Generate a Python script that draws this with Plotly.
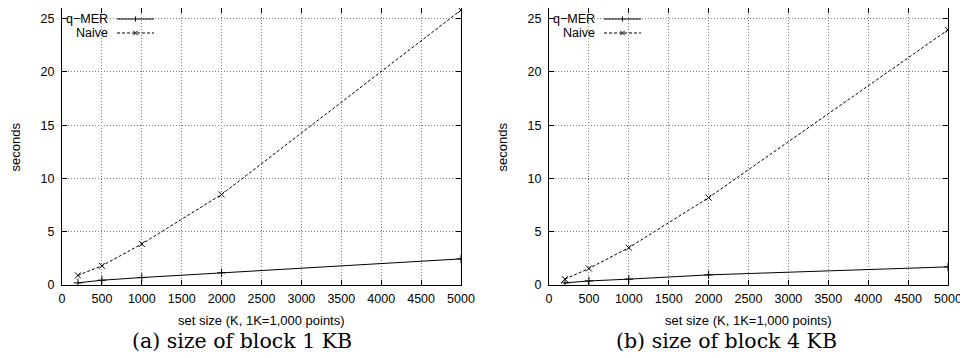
import plotly.graph_objects as go

# ---------------- data ----------------
set_size = [200, 500, 1000, 2000, 5000]
qmer_1kb = [0.2, 0.45, 0.7, 1.15, 2.45]
naive_1kb = [0.9, 1.8, 3.85, 8.5, 25.8]
qmer_4kb = [0.2, 0.38, 0.55, 0.95, 1.7]
naive_4kb = [0.55, 1.55, 3.5, 8.2, 23.95]
x_ticks = list(range(0, 5001, 500))
y_ticks = [0, 5, 10, 15, 20, 25]
series_names = ["q\u2212MER", "Naive"]
captions = ["(a) size of block 1 KB", "(b) size of block 4 KB"]
x_title = "set size (K, 1K=1,000 points)"
y_title = "seconds"

W, H = 968, 358
OFF = 8  # page body margin offset of the plot div
SANS = "Liberation Sans"
SERIF = "DejaVu Serif"

def px(x):
    return (x - OFF) / W

def py(y):
    return 1 - (y - OFF) / H

# plot-area pixel boxes (screen coordinates)
panels = [(62, 461), (549, 948)]
top, bottom = 8, 285

fig = go.Figure()

data = [(qmer_1kb, naive_1kb), (qmer_4kb, naive_4kb)]
for i, (q, n) in enumerate(data):
    xa = "x" if i == 0 else "x2"
    ya = "y" if i == 0 else "y2"
    fig.add_trace(go.Scatter(
        x=set_size, y=q, mode="lines+markers", name=series_names[0],
        xaxis=xa, yaxis=ya, showlegend=False,
        line=dict(color="black", width=1),
        marker=dict(symbol="cross-thin", size=6, line=dict(color="black", width=1))))
    fig.add_trace(go.Scatter(
        x=set_size, y=n, mode="lines+markers", name=series_names[1],
        xaxis=xa, yaxis=ya, showlegend=False,
        line=dict(color="black", width=1, dash="3px,2px"),
        marker=dict(symbol="x-thin", size=6, line=dict(color="black", width=1))))

axis_common = dict(
    showline=True, linecolor="black", linewidth=1.2, mirror="ticks",
    ticks="inside", ticklen=5, tickcolor="black", tickwidth=1,
    showgrid=True, gridcolor="#7a7a7a", griddash="1px,2px", gridwidth=1,
    zeroline=False, automargin=False,
    tickfont=dict(family=SANS, size=12.5, color="black"),
)

layout = dict(
    width=W, height=H, margin=dict(l=0, r=0, t=0, b=0, autoexpand=False),
    paper_bgcolor="white", plot_bgcolor="white", showlegend=False,
)
for i, (l, r) in enumerate(panels):
    sx = "" if i == 0 else "2"
    layout["xaxis" + sx] = dict(
        axis_common, domain=[px(l), px(r)], range=[0, 5000],
        tickvals=x_ticks, anchor="y" + sx, ticklabelstandoff=2)
    layout["yaxis" + sx] = dict(
        axis_common, domain=[py(bottom), py(top)], range=[0, 26],
        tickvals=y_ticks, anchor="x" + sx, ticklabelstandoff=4)
fig.update_layout(**layout)

shapes = []
annotations = []
for i, (l, r) in enumerate(panels):
    # legend background box (hides gridlines)
    shapes.append(dict(type="rect", xref="paper", yref="paper",
                       x0=px(l + 1), x1=px(l + 98), y0=py(38), y1=py(top + 1),
                       fillcolor="white", line=dict(width=0), layer="between"))
    # legend entries
    for j, yy in enumerate([19, 33]):
        annotations.append(dict(
            xref="paper", yref="paper", x=px(l + 48), y=py(yy),
            xanchor="right", yanchor="middle", showarrow=False,
            text=series_names[j], font=dict(family=SANS, size=12.5, color="black")))
        shapes.append(dict(type="line", xref="paper", yref="paper",
                           x0=px(l + 55), x1=px(l + 92), y0=py(yy), y1=py(yy),
                           line=dict(color="black", width=1,
                                     dash="solid" if j == 0 else "3px,2px")))
        cx = l + 73.5
        if j == 0:
            shapes.append(dict(type="line", xref="paper", yref="paper",
                               x0=px(cx), x1=px(cx), y0=py(yy - 2.5), y1=py(yy + 2.5),
                               line=dict(color="black", width=1)))
        else:
            for s in (1, -1):
                shapes.append(dict(type="line", xref="paper", yref="paper",
                                   x0=px(cx - 2.2), x1=px(cx + 2.2),
                                   y0=py(yy - 2.2 * s), y1=py(yy + 2.2 * s),
                                   line=dict(color="black", width=1)))
    # axis titles
    annotations.append(dict(
        xref="paper", yref="paper", x=px((l + r) / 2), y=py(320),
        xanchor="center", yanchor="middle", showarrow=False,
        text=x_title, font=dict(family=SANS, size=13, color="black")))
    annotations.append(dict(
        xref="paper", yref="paper", x=px(l - 47), y=py((top + bottom) / 2 + 1),
        xanchor="center", yanchor="middle", showarrow=False, textangle=-90,
        text=y_title, font=dict(family=SANS, size=13, color="black")))
    # caption
    annotations.append(dict(
        xref="paper", yref="paper", x=px(242 + 484 * i), y=py(341),
        xanchor="center", yanchor="middle", showarrow=False,
        text=captions[i], font=dict(family=SERIF, size=20.5, color="black")))

fig.update_layout(shapes=shapes, annotations=annotations)
fig.write_html("out.html")
